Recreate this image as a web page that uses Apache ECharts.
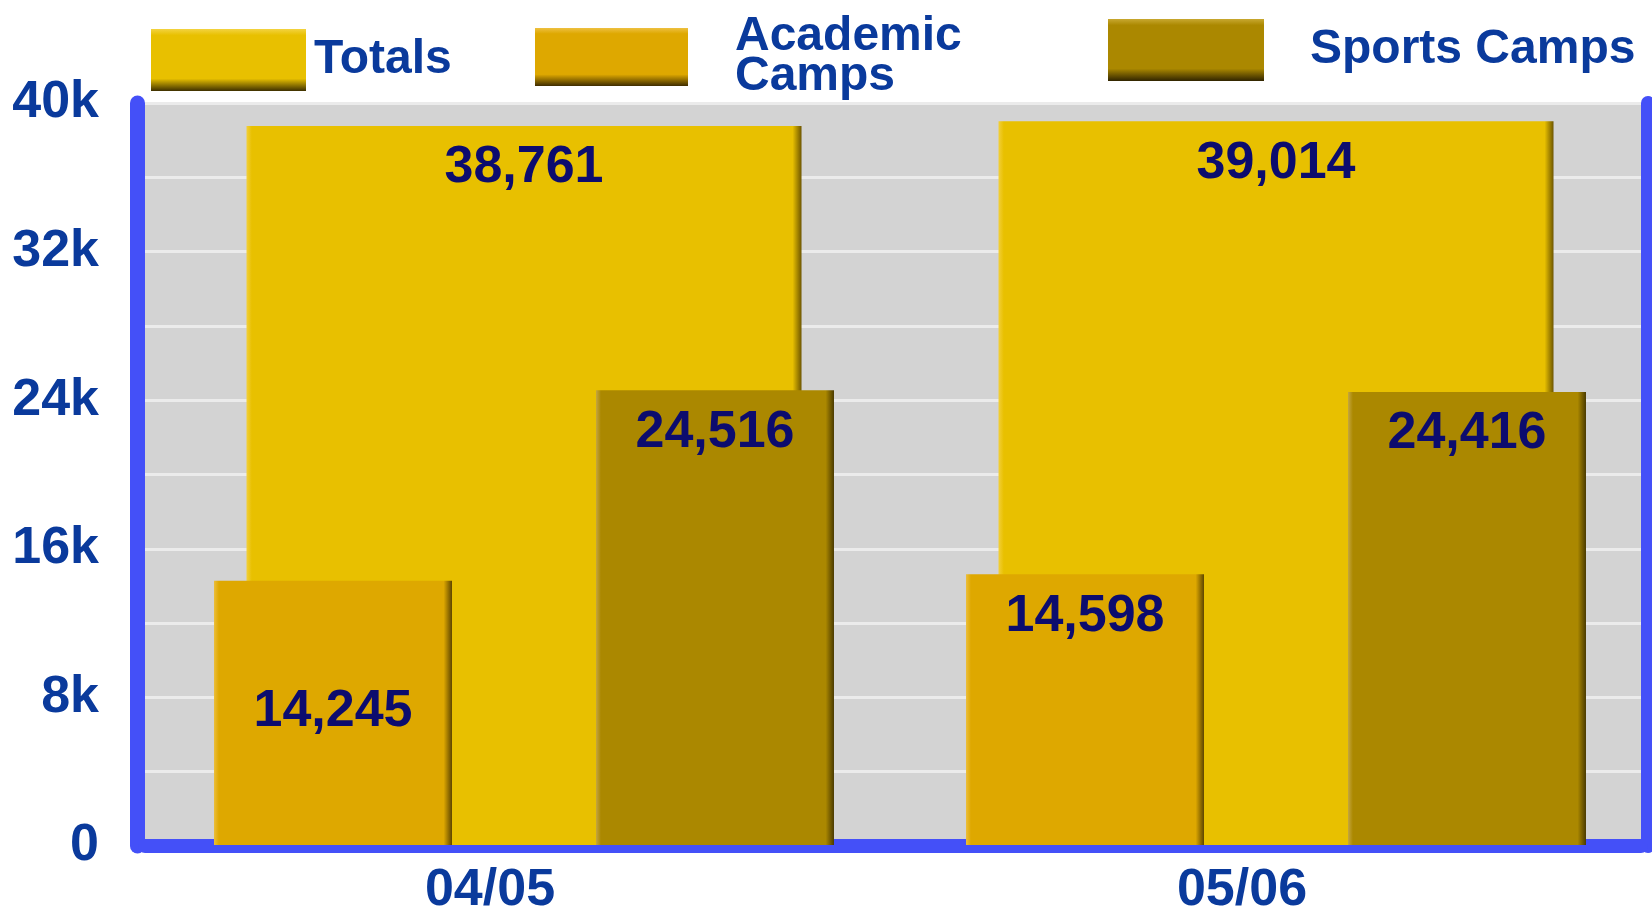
<!DOCTYPE html>
<html>
<head>
<meta charset="utf-8">
<title>Camp Attendance</title>
<script src="https://cdn.jsdelivr.net/npm/echarts@6/dist/echarts.min.js"></script>
<style>
  html, body { margin: 0; padding: 0; background: #ffffff; }
  #chart { width: 1652px; height: 917px; }
</style>
</head>
<body>
<div id="chart"></div>
<script>
// Attendance by season
const seasons = ['04/05', '05/06'];
const totals = [38761, 39014];
const academicCamps = [14245, 14598];
const sportsCamps = [24516, 24416];
const yTickLabels = ['0', '8k', '16k', '24k', '32k', '40k'];

const FONT = '"Liberation Sans", Arial, Helvetica, sans-serif';
const AXIS_BLUE = '#4450f8';
const TEXT_BLUE = '#0a3a9c';
const LABEL_NAVY = '#0c0c6e';

const G = echarts.graphic.LinearGradient;

// bevelled bar fill: light left edge, flat face, dark right edge
function barFill(light, base, dark, edge) {
  return new G(0, 0, 1, 0, [
    { offset: 0, color: light },
    { offset: edge * 0.6, color: base },
    { offset: 1 - edge, color: base },
    { offset: 1, color: dark }
  ]);
}
// legend swatch: light top edge, dark bottom edge
function swatchFill(light, base, dark) {
  return new G(0, 0, 0, 1, [
    { offset: 0, color: light },
    { offset: 0.1, color: base },
    { offset: 0.8, color: base },
    { offset: 1, color: dark }
  ]);
}

const fmt = v => String(v).replace(/\B(?=(\d{3})+(?!\d))/g, ',');

const valueLabel = {
  show: true,
  position: 'insideTop',
  distance: 16,
  formatter: p => fmt(p.value),
  color: LABEL_NAVY,
  fontFamily: FONT,
  fontWeight: 'bold',
  fontSize: 52,
  lineHeight: 52
};

const chart = echarts.init(document.getElementById('chart'), null, { renderer: 'canvas' });

const legendText = {
  color: TEXT_BLUE,
  fontFamily: FONT,
  fontWeight: 'bold',
  fontSize: 48
};

chart.setOption({
  animation: false,
  backgroundColor: '#ffffff',
  legend: [
    {
      data: [{ name: 'Totals', icon: 'rect',
        itemStyle: { color: swatchFill('#f3d340', '#e8c000', '#3e3000') } }],
      left: 151, top: 29, padding: 0,
      itemWidth: 155, itemHeight: 62,
      selectedMode: false,
      textStyle: Object.assign({}, legendText, { padding: [0, 0, 0, 3] })
    },
    {
      data: [{ name: 'Academic Camps', icon: 'rect',
        itemStyle: { color: swatchFill('#eec040', '#dea800', '#3e2c00') } }],
      left: 535, top: 12, padding: 0,
      itemWidth: 153, itemHeight: 58,
      selectedMode: false,
      formatter: name => name.replace(' ', '\n'),
      textStyle: Object.assign({}, legendText, { lineHeight: 40, padding: [0, 0, 10, 42] })
    },
    {
      data: [{ name: 'Sports Camps', icon: 'rect',
        itemStyle: { color: swatchFill('#c8a830', '#ab8800', '#302400') } }],
      left: 1108, top: 19, padding: 0,
      itemWidth: 156, itemHeight: 62,
      selectedMode: false,
      textStyle: Object.assign({}, legendText, { padding: [0, 0, 0, 41] })
    }
  ],
  grid: [
    // framed plot background with gridlines
    { left: 145, right: 11, top: 103, bottom: 71, show: true,
      backgroundColor: '#d3d3d3', borderWidth: 0 },
    // bars
    { left: 148, width: 1510, top: 103, bottom: 71 }
  ],
  xAxis: [
    {
      gridIndex: 0, type: 'category', data: seasons, offset: 8,
      axisLine: { show: true, lineStyle: { color: AXIS_BLUE, width: 14, cap: 'round' } },
      axisTick: { show: false }, axisLabel: { show: false }, splitLine: { show: false }
    },
    {
      gridIndex: 1, type: 'category', data: seasons,
      axisLine: { show: false }, axisTick: { show: false },
      axisLabel: {
        show: true, margin: 20, padding: [0, 68, 0, 0],
        color: TEXT_BLUE, fontFamily: FONT, fontWeight: 'bold', fontSize: 52
      }
    },
    {
      gridIndex: 1, type: 'category', data: seasons, show: false
    }
  ],
  yAxis: [
    {
      gridIndex: 0, type: 'value', min: 0, max: 40000, interval: 8000, offset: 8,
      axisLine: { show: true, lineStyle: { color: AXIS_BLUE, width: 15, cap: 'round' } },
      axisTick: { show: false },
      minorTick: { show: false, splitNumber: 2 },
      axisLabel: {
        margin: 38,
        formatter: (v) => yTickLabels[Math.round(v / 8000)],
        color: TEXT_BLUE, fontFamily: FONT, fontWeight: 'bold', fontSize: 52
      },
      splitLine: { show: true, lineStyle: { color: '#ebebeb', width: 3 } },
      minorSplitLine: { show: true, lineStyle: { color: '#ebebeb', width: 3 } }
    },
    {
      gridIndex: 0, type: 'value', min: 0, max: 40000, interval: 8000,
      position: 'right', offset: 7,
      axisLine: { show: true, lineStyle: { color: AXIS_BLUE, width: 14 } },
      axisTick: { show: false }, axisLabel: { show: false }, splitLine: { show: false }
    },
    {
      gridIndex: 1, type: 'value', min: 0, max: 40000, show: false,
      splitLine: { show: false }
    }
  ],
  series: [
    {
      name: 'Totals', type: 'bar', xAxisIndex: 2, yAxisIndex: 2,
      data: totals, barWidth: 555, z: 2,
      itemStyle: { color: barFill('#f2cf3a', '#e8c000', '#6e5600', 0.016) },
      label: valueLabel
    },
    {
      name: 'Academic Camps', type: 'bar', xAxisIndex: 1, yAxisIndex: 2,
      data: academicCamps.map((v, i) => i === 0
        ? { value: v, label: { distance: 105 } }
        : v),
      barWidth: 238, barGap: '60.5%', z: 3,
      itemStyle: { color: barFill('#ecbe3a', '#dea800', '#5e4600', 0.035) },
      label: valueLabel
    },
    {
      name: 'Sports Camps', type: 'bar', xAxisIndex: 1, yAxisIndex: 2,
      data: sportsCamps, barWidth: 238, barGap: '60.5%', z: 3,
      itemStyle: { color: barFill('#c4a640', '#ab8800', '#4a3a00', 0.035) },
      label: valueLabel
    }
  ]
});
</script>
</body>
</html>
